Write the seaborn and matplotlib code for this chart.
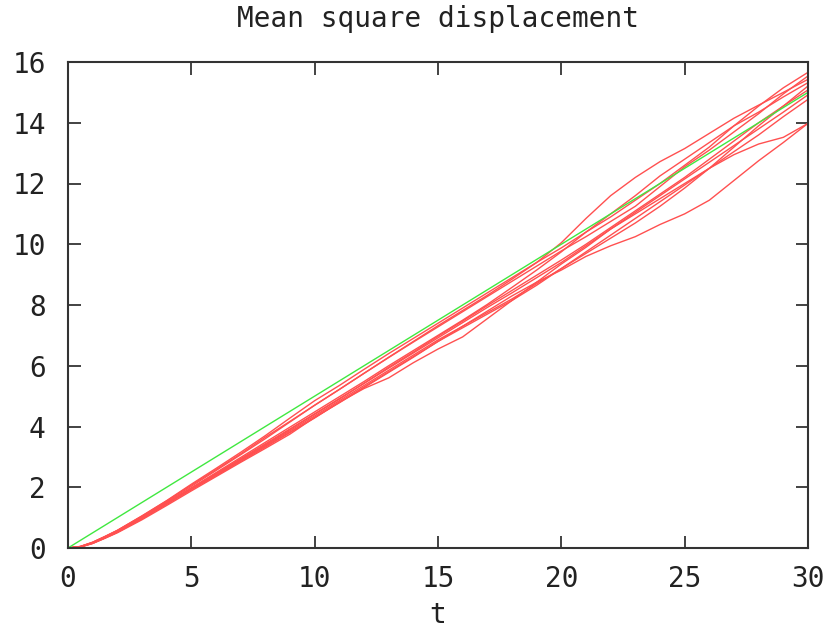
import numpy as np
import pandas as pd
import matplotlib
matplotlib.use("Agg")
import matplotlib.pyplot as plt
import seaborn as sns

# sample times shared by every trajectory
t = [0, 0.5, 1, 1.5, 2, 3, 4, 5, 6, 7, 8, 9, 10, 11, 12, 13, 14, 15, 16,
     17, 18, 19, 20, 21, 22, 23, 24, 25, 26, 27, 28, 29, 30]

# mean square displacement of each simulated run
run1 = [0, .05, .19, .38, .58, 1.05, 1.55, 2.07, 2.58, 3.10, 3.65, 4.17, 4.70, 5.22, 5.75, 6.28, 6.80,
        7.32, 7.82, 8.32, 8.85, 9.40, 10.05, 10.85, 11.60, 12.20, 12.72, 13.15, 13.65, 14.15, 14.58, 15.00, 15.43]
run2 = [0, .05, .19, .38, .58, 1.06, 1.56, 2.10, 2.62, 3.15, 3.70, 4.28, 4.85, 5.35, 5.88, 6.40, 6.90,
        7.40, 7.90, 8.40, 8.90, 9.40, 9.88, 10.40, 10.90, 11.45, 12.00, 12.60, 13.20, 13.90, 14.55, 15.15, 15.66]
run3 = [0, .03, .15, .32, .50, .93, 1.40, 1.88, 2.35, 2.82, 3.28, 3.75, 4.30, 4.80, 5.25, 5.60, 6.10,
        6.55, 6.95, 7.55, 8.15, 8.75, 9.35, 9.90, 10.50, 11.05, 11.60, 12.15, 12.70, 13.25, 13.80, 14.35, 14.92]
run4 = [0, .04, .16, .33, .52, .96, 1.44, 1.92, 2.38, 2.85, 3.32, 3.80, 4.28, 4.80, 5.30, 5.80, 6.30,
        6.80, 7.30, 7.80, 8.30, 8.75, 9.15, 9.60, 9.95, 10.25, 10.65, 11.00, 11.45, 12.10, 12.75, 13.35, 13.98]
run5 = [0, .04, .17, .35, .55, 1.00, 1.48, 1.97, 2.45, 2.94, 3.43, 3.92, 4.42, 4.92, 5.42, 5.92, 6.42,
        6.92, 7.42, 7.92, 8.40, 8.90, 9.40, 9.95, 10.50, 11.00, 11.50, 12.00, 12.50, 12.95, 13.30, 13.52, 13.98]
run6 = [0, .05, .18, .37, .57, 1.03, 1.52, 2.03, 2.55, 3.07, 3.60, 4.15, 4.70, 5.22, 5.75, 6.27, 6.78,
        7.28, 7.78, 8.28, 8.78, 9.28, 9.78, 10.25, 10.75, 11.25, 11.90, 12.55, 13.10, 13.70, 14.30, 14.95, 15.54]
run7 = [0, .04, .17, .36, .56, 1.01, 1.49, 1.98, 2.48, 2.98, 3.48, 3.98, 4.48, 4.98, 5.48, 6.00, 6.50,
        7.00, 7.50, 8.02, 8.58, 9.15, 9.75, 10.40, 11.00, 11.60, 12.25, 12.80, 13.35, 13.90, 14.35, 14.85, 15.32]
run8 = [0, .04, .16, .34, .53, .98, 1.46, 1.95, 2.42, 2.90, 3.38, 3.86, 4.35, 4.85, 5.35, 5.85, 6.35,
        6.85, 7.30, 7.75, 8.20, 8.70, 9.20, 9.70, 10.20, 10.70, 11.25, 11.85, 12.50, 13.20, 13.90, 14.55, 15.21]
run9 = [0, .04, .17, .35, .55, 1.00, 1.47, 1.96, 2.44, 2.92, 3.40, 3.90, 4.40, 4.90, 5.42, 5.95, 6.45,
        6.97, 7.47, 7.98, 8.48, 8.98, 9.48, 10.00, 10.55, 11.10, 11.65, 12.20, 12.80, 13.40, 14.00, 14.55, 15.08]
run10 = [0, .03, .15, .33, .52, .97, 1.45, 1.93, 2.40, 2.88, 3.35, 3.82, 4.30, 4.78, 5.28, 5.78, 6.28,
         6.80, 7.25, 7.70, 8.15, 8.65, 9.20, 9.75, 10.30, 10.85, 11.40, 11.95, 12.50, 13.05, 13.60, 14.20, 14.77]
runs = [run1, run2, run3, run4, run5, run6, run7, run8, run9, run10]

# theoretical diffusive line
theory_t = [0, 30]
theory_msd = [0, 15]

x_ticks = [0, 5, 10, 15, 20, 25, 30]
y_ticks = [0, 2, 4, 6, 8, 10, 12, 14, 16]

sns.set_theme(style="white")
plt.rcParams["font.family"] = ["DejaVu Sans Mono", "DejaVu Sans"]

df = pd.DataFrame({
    "t": np.tile(t, len(runs)),
    "msd": np.concatenate(runs),
    "run": np.repeat(np.arange(len(runs)), len(t)),
})

fig = plt.figure(figsize=(8.36, 6.30), dpi=100)
ax = fig.add_axes([68 / 836, 82 / 630, 740 / 836, 486 / 630])

sns.lineplot(data=df, x="t", y="msd", units="run", estimator=None, sort=False,
             color="#ff5050", linewidth=1.0, ax=ax, legend=False)
sns.lineplot(x=theory_t, y=theory_msd, color="#40e840", linewidth=1.0, ax=ax)

ax.set_xlim(0, 30)
ax.set_ylim(0, 16)
ax.set_xticks(x_ticks)
ax.set_yticks(y_ticks)
ax.tick_params(direction="in", length=9, width=1.2, color="#222222",
               top=True, right=True, bottom=True, left=True,
               labelsize=20, labelcolor="#222222")
ax.tick_params(axis="y", pad=16)
ax.tick_params(axis="x", pad=12)
for s in ax.spines.values():
    s.set_color("#333333")
    s.set_linewidth(1.5)

ax.set_title("Mean square displacement", fontsize=20, color="#222222", pad=25)
ax.set_xlabel("t", fontsize=20, color="#222222", labelpad=6)
ax.set_ylabel("")

fig.savefig("out.png", dpi=100, facecolor="white")
